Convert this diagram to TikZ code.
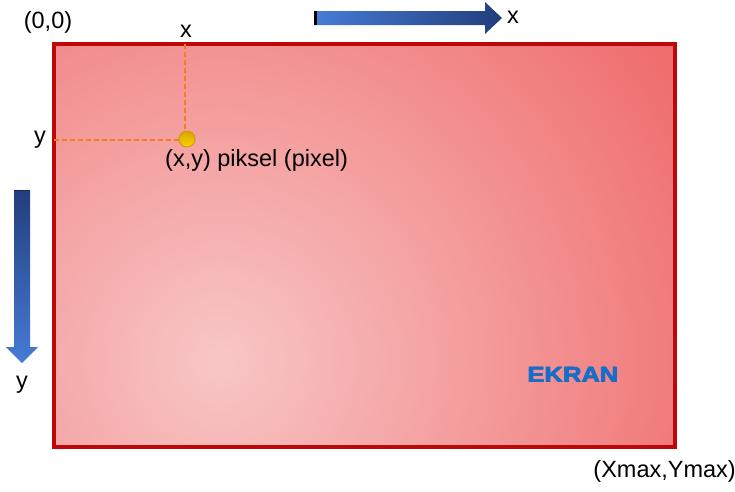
\documentclass[tikz,border=0pt]{standalone}
\usepackage{fontspec}
\setmainfont{Liberation Sans}
\newfontfamily\heavysans{Liberation Sans Bold}
\begin{document}
\begin{tikzpicture}[x=1pt,y=-1pt,
  lbl/.style={inner sep=0pt, font=\fontsize{23.5}{27}\selectfont},
  heavy/.style={inner sep=0pt, text=ekranblue, font=\fontsize{22}{26}\heavysans},
  guide/.style={draw={rgb,255:red,245;green,125;blue,30}, dashed, dash pattern=on 5pt off 3pt, line width=1.3pt}]
\definecolor{frame}{RGB}{188,8,8}
\definecolor{pinklight}{RGB}{248,198,198}
\definecolor{pinkdark}{RGB}{238,96,96}
\definecolor{bluelight}{RGB}{70,124,214}
\definecolor{bluedark}{RGB}{34,62,124}
\definecolor{ekranblue}{RGB}{22,110,200}
\definecolor{dottop}{RGB}{214,164,0}
\definecolor{dotbottom}{RGB}{250,212,0}
\definecolor{dotrim}{RGB}{206,156,0}
\useasboundingbox (0,0) rectangle (735,491);

% screen: shadow, shaded face, red frame
\fill[black, opacity=0.18] (55,45) rectangle (677,449);
\begin{scope}
  \clip (52,42) rectangle (673,445);
  \fill[pinkdark] (52,42) rectangle (673,445);
  \shade[inner color=pinklight, outer color=pinkdark] (220,360) circle (620);
\end{scope}
\node[draw=frame, line width=3.8pt, minimum width=621pt, minimum height=403pt, inner sep=0pt, anchor=north west] (screen) at (52,42) {};

% horizontal axis arrow
\shade[left color=bluelight, right color=bluedark]
  (314,11) -- (485,11) -- (485,2) -- (502,18) -- (485,34) -- (485,25) -- (314,25) -- cycle;
\fill[black] (314,11) rectangle (317,25);
\node[lbl, anchor=west] (xaxis) at (507,17) {x};

% vertical axis arrow
\shade[top color=bluedark, bottom color=bluelight]
  (14,190) -- (30,190) -- (30,347) -- (38,347) -- (22,363) -- (6,347) -- (14,347) -- cycle;
\draw[bluedark!70!black, line width=0.8pt] (14,190) -- (30,190);
\node[lbl] (yaxis) at (22,385) {y};

% corner labels
\node[lbl] (origin) at (48,22) {(0,0)};
\node[lbl, anchor=east] (corner) at (736,471) {(Xmax,Ymax)};

% pixel position with guides
\coordinate (xtop) at (185,44);
\coordinate (yleft) at (54,140);
\node[circle, top color=dottop, bottom color=dotbottom, draw=dotrim, line width=0.9pt, minimum size=16pt, inner sep=0pt] (pix) at (187,139) {};
\draw[guide] (xtop) -- (pix.north -| xtop);
\draw[guide] (yleft) -- (pix.west |- yleft);
\node[lbl] (xlab) at (186,31) {x};
\node[lbl] (ylab) at (40,140) {y};
\node[lbl, anchor=west] (pixlab) at (165,160) {(x,y) piksel (pixel)};

% screen label, stacked copies for an extra-heavy weight
\foreach \dx/\dy in {-0.5/0, 0.5/0, 0/-0.4, 0/0.4}
  \node[heavy] at (573+\dx,375+\dy) {\scalebox{1.16}[1]{EKRAN}};
\node[heavy] (ekran) at (573,375) {\scalebox{1.16}[1]{EKRAN}};
\end{tikzpicture}
\end{document}
